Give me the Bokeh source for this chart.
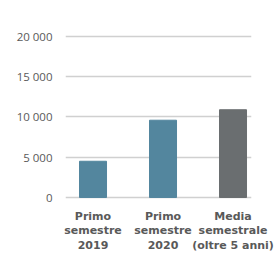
from bokeh.plotting import figure
from bokeh.models import FixedTicker, Range1d, Title
from bokeh.embed import file_html
from bokeh.resources import INLINE

categories = ["Primo\nsemestre\n2019", "Primo\nsemestre\n2020", "Media\nsemestrale\n(oltre 5 anni)"]
values = [4500, 9600, 10900]
bar_colors = ["#53869e", "#53869e", "#6a6e70"]
y_ticks = [0, 5000, 10000, 15000, 20000]
y_tick_labels = ["0", "5 000", "10 000", "15 000", "20 000"]

xs = [i + 0.5 for i in range(len(categories))]

p = figure(frame_width=186, frame_height=179,
           min_border_left=65, min_border_right=28, min_border_top=20, min_border_bottom=62,
           x_range=Range1d(0.107, 2.764), y_range=Range1d(-250, 21986),
           output_backend="svg", toolbar_location=None)

p.background_fill_color = "white"
p.border_fill_color = "white"
p.outline_line_color = None

# blue slide header bar above the chart box
p.add_layout(Title(text=" ", text_font_size="1px", align="left", offset=-46, standoff=0,
                   vertical_align="top", text_alpha=0,
                   background_fill_color="#53869e", background_fill_alpha=1,
                   padding=dict(left=0, right=243, top=0, bottom=7)), "above")

p.vbar(x=xs, top=values, width=0.386, color=bar_colors)

p.xgrid.visible = False
p.ygrid.ticker = FixedTicker(ticks=y_ticks)
p.ygrid.grid_line_color = "#d0d0d0"
p.ygrid.grid_line_width = 1.5

p.yaxis.ticker = FixedTicker(ticks=y_ticks)
p.yaxis.major_label_overrides = {t: l for t, l in zip(y_ticks, y_tick_labels)}
p.yaxis.axis_line_color = None
p.yaxis.major_tick_line_color = None
p.yaxis.minor_tick_line_color = None
p.yaxis.major_label_standoff = 7
p.yaxis.major_label_text_font = "Open Sans"
p.yaxis.major_label_text_font_size = "11.5px"
p.yaxis.major_label_text_color = "#595959"

p.xaxis.ticker = FixedTicker(ticks=xs)
p.xaxis.major_label_overrides = {x: c for x, c in zip(xs, categories)}
p.xaxis.axis_line_color = None
p.xaxis.major_tick_line_color = None
p.xaxis.minor_tick_line_color = None
p.xaxis.major_label_standoff = 4
p.xaxis.major_label_text_font = "DejaVu Sans"
p.xaxis.major_label_text_font_style = "bold"
p.xaxis.major_label_text_font_size = "11px"
p.xaxis.major_label_text_color = "#595959"
p.xaxis.major_label_text_line_height = 1.15

open("out.html", "w").write(file_html(p, INLINE))
